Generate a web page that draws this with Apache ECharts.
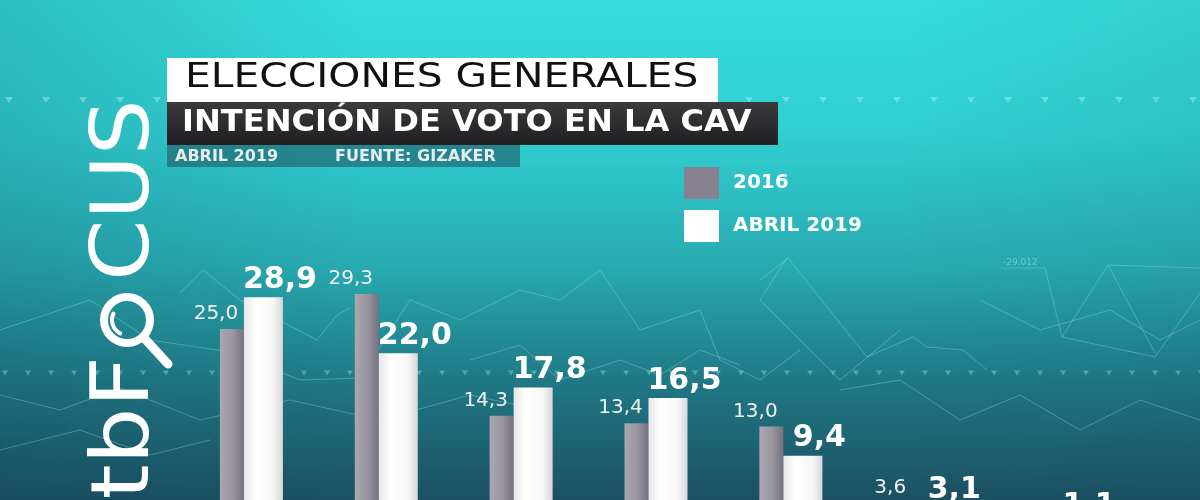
<!DOCTYPE html>
<html>
<head>
<meta charset="utf-8">
<script src="https://cdn.jsdelivr.net/npm/echarts@6/dist/echarts.min.js"></script>
<style>
html,body{margin:0;padding:0;background:#1b5060;overflow:hidden;height:500px;}
#wrap{width:1200px;height:500px;overflow:hidden;position:relative;}
#chart{width:1200px;height:532px;position:absolute;left:0;top:0;}
</style>
</head>
<body>
<div id="wrap"><div id="chart"></div></div>
<script>
// ---- data ----
const categories = ['PNV', 'Podemos', 'PSE-EE', 'EH Bildu', 'PP', 'Cs', 'Vox'];
const values2016 = [25.0, 29.3, 14.3, 13.4, 13.0, 3.6, null];
const valuesAbril2019 = [28.9, 22.0, 17.8, 16.5, 9.4, 3.1, 1.1];
const seriesNames = ['2016', 'ABRIL 2019'];
const titleText = 'ELECCIONES GENERALES';
const subtitleText = 'INTENCIÓN DE VOTO EN LA CAV';
const dateText = 'ABRIL 2019';
const sourceText = 'FUENTE: GIZAKER';

const fmt = p => (p.value == null ? '' : p.value.toFixed(1).replace('.', ','));

const chart = echarts.init(document.getElementById('chart'), null, {renderer: 'canvas'});

const grayGrad = new echarts.graphic.LinearGradient(0, 0, 1, 0, [
  {offset: 0, color: '#aaa7b0'},
  {offset: 0.55, color: '#99959f'},
  {offset: 1, color: '#74707d'}
]);
const whiteGrad = new echarts.graphic.LinearGradient(0, 0, 1, 0, [
  {offset: 0, color: '#e6e6e8'},
  {offset: 0.3, color: '#ffffff'},
  {offset: 0.75, color: '#f7f7f7'},
  {offset: 1, color: '#d6d6da'}
]);

// ---- decorative background (not data) ----
const deco = [];
function tri(cx, cy, w, h, alpha) {
  deco.push({
    type: 'polygon', z: -90, silent: true,
    shape: {points: [[cx - w / 2, cy - h / 2], [cx + w / 2, cy - h / 2], [cx, cy + h / 2]]},
    style: {fill: 'rgba(140,235,235,' + alpha + ')'}
  });
}
for (let k = 0; k < 33; k++) tri(9 + 37 * k, 100, 8, 6, 0.55);
for (let k = 0; k < 53; k++) tri(5 + 23 * k, 373, 6, 5, 0.4);
const netLines = [
  [[760, 280], [788, 258], [867, 357], [913, 337], [927, 347], [963, 350], [987, 370]],
  [[1000, 268], [1045, 268], [1062, 337], [1155, 357], [1200, 293]],
  [[1108, 265], [1200, 268]],
  [[1108, 265], [1155, 353]],
  [[1062, 337], [1108, 265]],
  [[787, 258], [760, 300], [840, 380], [900, 330]],
  [[180, 293], [203, 270], [240, 300], [317, 340], [337, 315], [350, 308]],
  [[0, 330], [90, 300], [150, 340], [230, 352], [300, 380], [360, 378], [410, 300], [460, 320], [520, 290], [560, 300]],
  [[0, 395], [60, 410], [120, 388], [200, 420], [290, 400], [380, 420], [470, 395], [540, 410]],
  [[560, 300], [600, 270], [640, 330], [700, 310], [720, 360], [760, 380], [800, 350]],
  [[470, 360], [520, 345], [560, 380], [620, 360], [660, 375], [700, 350], [740, 365]],
  [[840, 390], [900, 380], [960, 420], [1020, 395], [1080, 430], [1140, 400], [1200, 420]],
  [[0, 450], [80, 430], [150, 455], [210, 440]],
  [[980, 300], [1040, 330], [1110, 310], [1160, 340], [1200, 320]]
];
netLines.forEach(pts => deco.push({
  type: 'polyline', z: -91, silent: true,
  shape: {points: pts},
  style: {stroke: 'rgba(160,240,240,0.32)', lineWidth: 1, fill: 'none'}
}));
deco.push({
  type: 'text', z: -90, silent: true, x: 1003, y: 263,
  style: {text: '-29.012', fill: 'rgba(170,235,235,0.5)', font: 'normal 9px "DejaVu Sans"',
    textAlign: 'left', textVerticalAlign: 'middle', align: 'left', verticalAlign: 'middle'}
});

const option = {
  animation: false,
  backgroundColor: '#1b5060',
  grid: {left: 184, right: 72, top: 207, bottom: 0, containLabel: false},
  xAxis: {
    type: 'category',
    data: categories,
    axisLine: {show: false}, axisTick: {show: false}, axisLabel: {show: false},
    splitLine: {show: false}
  },
  yAxis: {
    type: 'value', min: 0, max: 40,
    show: false, splitLine: {show: false}
  },
  legend: {
    orient: 'vertical',
    left: 684, top: 167, padding: 0,
    itemWidth: 35, itemHeight: 32, itemGap: 11,
    icon: 'rect',
    data: [
      {name: seriesNames[0], itemStyle: {color: '#86828f'}},
      {name: seriesNames[1], itemStyle: {color: '#ffffff'}}
    ],
    textStyle: {
      color: '#ffffff', fontFamily: 'DejaVu Sans', fontWeight: 'bold', fontSize: 20,
      padding: [0, 0, 0, 9]
    }
  },
  graphic: [
    // background
    {
      type: 'rect', z: -100, silent: true,
      shape: {x: 0, y: 0, width: 1200, height: 532},
      style: {fill: new echarts.graphic.LinearGradient(0, 0, 0, 1, [
        {offset: 0, color: '#36dcdc'},
        {offset: 0.25, color: '#30cfd1'},
        {offset: 0.5, color: '#28aab1'},
        {offset: 0.72, color: '#1f7884'},
        {offset: 0.94, color: '#1b5062'},
        {offset: 1, color: '#1b4c5e'}
      ])}
    },
    {
      type: 'rect', z: -99, silent: true,
      shape: {x: 0, y: 0, width: 1200, height: 532},
      style: {fill: new echarts.graphic.LinearGradient(0, 0, 1, 0, [
        {offset: 0, color: 'rgba(10,60,80,0.18)'},
        {offset: 0.3, color: 'rgba(10,60,80,0)'},
        {offset: 0.75, color: 'rgba(10,60,80,0)'},
        {offset: 1, color: 'rgba(10,60,80,0.08)'}
      ])}
    },
    ...deco,
    // title boxes
    {
      type: 'rect', z: 50, silent: true,
      shape: {x: 167, y: 58, width: 551, height: 44},
      style: {fill: '#ffffff'}
    },
    {
      type: 'rect', z: 50, silent: true,
      shape: {x: 167, y: 102, width: 611, height: 43},
      style: {fill: new echarts.graphic.LinearGradient(0, 0, 0, 1, [
        {offset: 0, color: '#3b3b3d'},
        {offset: 1, color: '#1f1f21'}
      ])}
    },
    {
      type: 'rect', z: 50, silent: true,
      shape: {x: 167, y: 145, width: 353, height: 22},
      style: {fill: 'rgba(35,110,120,0.75)'}
    },
    {
      type: 'text', z: 51, silent: true, x: 185, y: 78, scaleX: 1.2,
      style: {text: titleText, fill: '#111111', font: 'normal 34px "DejaVu Sans"',
        textAlign: 'left', textVerticalAlign: 'middle', align: 'left', verticalAlign: 'middle'}
    },
    {
      type: 'text', z: 51, silent: true, x: 182, y: 123, scaleX: 1.07,
      style: {text: subtitleText, fill: '#ffffff', font: 'bold 30px "DejaVu Sans"',
        textAlign: 'left', textVerticalAlign: 'middle', align: 'left', verticalAlign: 'middle'}
    },
    {
      type: 'text', z: 51, silent: true, x: 175, y: 157,
      style: {text: dateText, fill: '#e4eeee', font: 'bold 16px "DejaVu Sans"',
        textAlign: 'left', textVerticalAlign: 'middle', align: 'left', verticalAlign: 'middle'}
    },
    {
      type: 'text', z: 51, silent: true, x: 335, y: 157,
      style: {text: sourceText, fill: '#e4eeee', font: 'bold 16px "DejaVu Sans"',
        textAlign: 'left', textVerticalAlign: 'middle', align: 'left', verticalAlign: 'middle'}
    },
    // vertical logo
    {
      type: 'text', z: 40, silent: true, x: 127, y: 281, rotation: Math.PI / 2, scaleX: 1.1,
      style: {text: 'CUS', fill: '#ffffff', font: 'normal 80px "DejaVu Sans"',
        textAlign: 'left', textVerticalAlign: 'middle', align: 'left', verticalAlign: 'middle'}
    },
    {
      type: 'text', z: 40, silent: true, x: 127, y: 356, rotation: Math.PI / 2, scaleX: 1.12,
      style: {text: 'tbF', fill: '#ffffff', font: 'normal 80px "DejaVu Sans"',
        textAlign: 'right', textVerticalAlign: 'middle', align: 'right', verticalAlign: 'middle'}
    },
    {
      type: 'circle', z: 40, silent: true,
      shape: {cx: 127, cy: 320, r: 23},
      style: {fill: 'none', stroke: '#ffffff', lineWidth: 8}
    },
    {
      type: 'line', z: 40, silent: true,
      shape: {x1: 145, y1: 339, x2: 168, y2: 364},
      style: {stroke: '#ffffff', lineWidth: 9, lineCap: 'round'}
    },
    {
      type: 'arc', z: 40, silent: true,
      shape: {cx: 127, cy: 320, r: 15, startAngle: 117 * Math.PI / 180, endAngle: 205 * Math.PI / 180},
      style: {fill: 'none', stroke: '#ffffff', lineWidth: 4, lineCap: 'round'}
    }
  ],
  series: [
    {
      name: seriesNames[0], type: 'bar', barWidth: 24, barGap: '0%',
      data: values2016,
      itemStyle: {color: grayGrad},
      label: {
        show: true, position: [-4, -15], align: 'center', verticalAlign: 'middle',
        color: '#f0f0f0', fontFamily: 'DejaVu Sans', fontSize: 20, formatter: fmt
      }
    },
    {
      name: seriesNames[1], type: 'bar', barWidth: 39, barGap: '0%',
      data: valuesAbril2019,
      itemStyle: {color: whiteGrad},
      label: {
        show: true, position: [36, -17], align: 'center', verticalAlign: 'middle',
        color: '#ffffff', fontFamily: 'DejaVu Sans', fontWeight: 'bold', fontSize: 30, formatter: fmt
      }
    }
  ]
};
chart.setOption(option);
</script>
</body>
</html>
